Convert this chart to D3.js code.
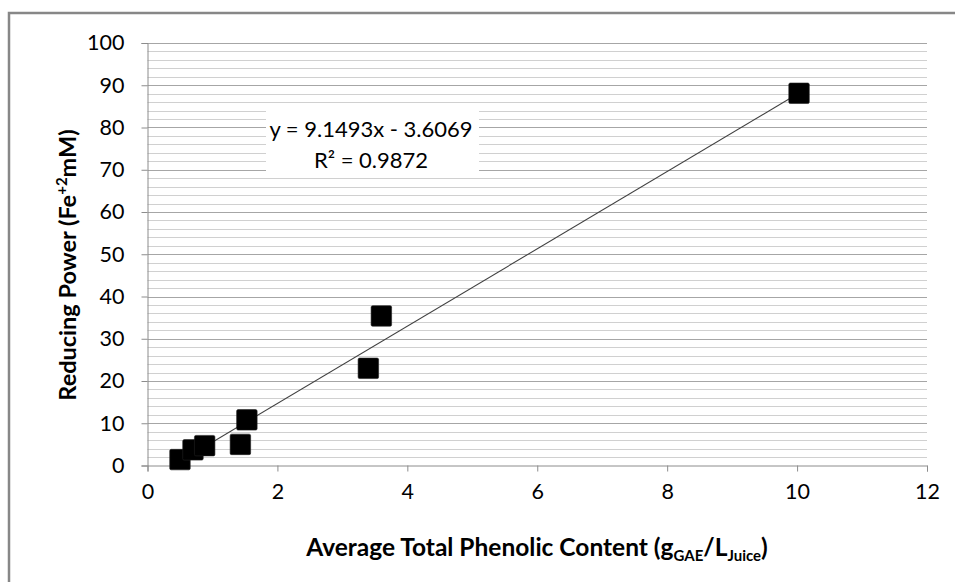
<!DOCTYPE html>
<html>
<head>
<meta charset="utf-8">
<script src="https://cdn.jsdelivr.net/npm/d3@7"></script>
<style>
  html, body { margin: 0; padding: 0; background: #fff; }
  svg { display: block; }
  text { font-family: Lato, "Open Sans", sans-serif; fill: #000; }
</style>
</head>
<body>
<svg id="chart" width="955" height="582"></svg>
<script>
// ---- data ----
const phenolic = [0.50, 0.70, 0.88, 1.43, 1.53, 3.40, 3.60, 10.03];
const reducingPower = [1.4, 3.7, 4.7, 5.0, 10.8, 23.0, 35.4, 88.1];
const xTicks = [0, 2, 4, 6, 8, 10, 12];
const yTicks = [0, 10, 20, 30, 40, 50, 60, 70, 80, 90, 100];
const yMinorTicks = d3.range(0, 101, 2);
const slope = 9.1493, intercept = -3.6069;
const equationLines = ["y = 9.1493x - 3.6069", "R² = 0.9872"];

const svg = d3.select("#chart");
const margin = { left: 147.5, right: 955 - 927, top: 43, bottom: 582 - 465.5 };
const W = 955, H = 582;

// chart frame (clipped by the window)
svg.append("rect").attr("x", 9).attr("y", 13).attr("width", 1200).attr("height", 1200)
  .attr("fill", "none").attr("stroke", "#878787").attr("stroke-width", 2.5);

const x = d3.scaleLinear().domain([0, 12]).range([margin.left, W - margin.right]);
const y = d3.scaleLinear().domain([0, 100]).range([H - margin.bottom, margin.top]);

// minor gridlines
svg.append("g").selectAll("line").data(yMinorTicks.filter(d => d % 10 !== 0)).join("line")
  .attr("x1", x(0)).attr("x2", x(12))
  .attr("y1", d => Math.round(y(d)) + 0.5).attr("y2", d => Math.round(y(d)) + 0.5)
  .attr("stroke", "#d0d0d0").attr("stroke-width", 1);
// major gridlines
svg.append("g").selectAll("line").data(yTicks.filter(d => d > 0)).join("line")
  .attr("x1", x(0)).attr("x2", x(12))
  .attr("y1", d => Math.round(y(d)) + 0.5).attr("y2", d => Math.round(y(d)) + 0.5)
  .attr("stroke", "#a6a6a6").attr("stroke-width", 1);

// y axis
const yAxis = svg.append("g").attr("transform", `translate(${x(0)},0)`)
  .call(d3.axisLeft(y).tickValues(yTicks).tickSize(6).tickPadding(17).tickFormat(d3.format("d")));
yAxis.select(".domain").attr("stroke", "#8c8c8c");
yAxis.selectAll(".tick line").attr("stroke", "#8c8c8c");
yAxis.selectAll(".tick text").attr("font-size", 21.5).attr("font-family", "Lato").attr("fill", "#000");

// x axis
const xAxis = svg.append("g").attr("transform", `translate(0,${y(0)})`)
  .call(d3.axisBottom(x).tickValues(xTicks).tickSize(6).tickPadding(12).tickFormat(d3.format("d")));
xAxis.select(".domain").attr("stroke", "#8c8c8c");
xAxis.selectAll(".tick line").attr("stroke", "#8c8c8c");
xAxis.selectAll(".tick text").attr("font-size", 21.5).attr("font-family", "Lato").attr("fill", "#000");

// trendline
const xMin = d3.min(phenolic), xMax = d3.max(phenolic);
svg.append("line")
  .attr("x1", x(xMin)).attr("y1", y(slope * xMin + intercept))
  .attr("x2", x(xMax)).attr("y2", y(slope * xMax + intercept))
  .attr("stroke", "#404040").attr("stroke-width", 1.1);

// points
const sz = 20.5;
svg.append("g").selectAll("rect").data(phenolic.map((d, i) => [d, reducingPower[i]])).join("rect")
  .attr("x", d => x(d[0]) - sz / 2).attr("y", d => y(d[1]) - sz / 2)
  .attr("width", sz).attr("height", sz).attr("rx", 1.5)
  .attr("fill", "#000").attr("stroke", "#222").attr("stroke-width", 0.6);

// equation box
svg.append("rect").attr("x", 266).attr("y", 103).attr("width", 213).attr("height", 73).attr("fill", "#fff");
const eq = svg.append("g").attr("font-size", 22).attr("text-anchor", "middle");
eq.append("text").attr("x", 371).attr("y", 137).text(equationLines[0]);
eq.append("text").attr("x", 371).attr("y", 168).text(equationLines[1]);

// axis titles
const xt = svg.append("text").attr("x", 537).attr("y", 556).attr("text-anchor", "middle")
  .attr("font-weight", "bold").attr("font-size", 24.5);
xt.append("tspan").text("Average Total Phenolic Content (g");
xt.append("tspan").attr("font-size", 15).attr("dy", 5).text("GAE");
xt.append("tspan").attr("dy", -5).text("/L");
xt.append("tspan").attr("font-size", 15).attr("dy", 5).text("Juice");
xt.append("tspan").attr("dy", -5).text(")");

const yt = svg.append("text").attr("transform", "translate(76,265) rotate(-90)")
  .attr("text-anchor", "middle").attr("font-weight", "bold").attr("font-size", 23.5);
yt.append("tspan").text("Reducing Power (Fe");
yt.append("tspan").attr("font-size", 15).attr("dy", -9).text("+2");
yt.append("tspan").attr("dy", 9).text("mM)");
</script>
</body>
</html>
